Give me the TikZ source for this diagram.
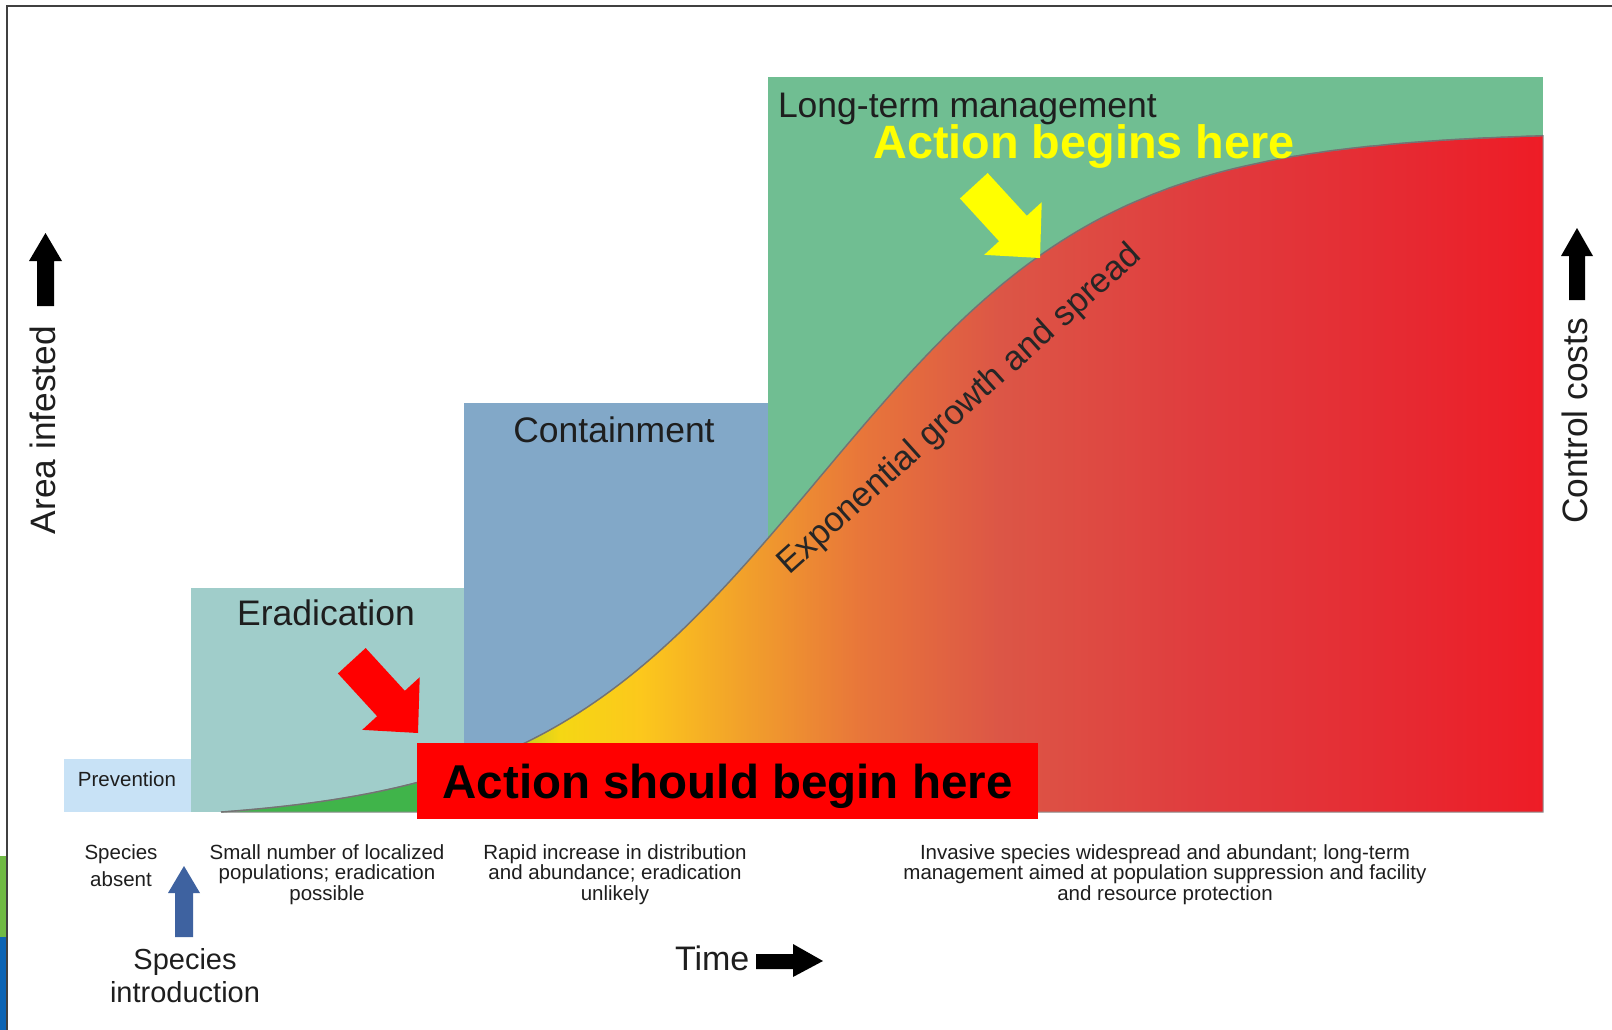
\documentclass[tikz,border=0pt]{standalone}
\usepackage{fontspec}
\setmainfont{Liberation Sans}
\definecolor{prevc}{RGB}{200,226,246}
\definecolor{eradc}{RGB}{160,205,202}
\definecolor{contc}{RGB}{130,168,200}
\definecolor{ltmc}{RGB}{112,190,146}
\definecolor{sg1}{RGB}{64,180,74}
\definecolor{sg2}{RGB}{165,200,40}
\definecolor{sg3}{RGB}{245,215,20}
\definecolor{sg4}{RGB}{252,200,28}
\definecolor{sg5}{RGB}{242,162,42}
\definecolor{sg6}{RGB}{232,118,58}
\definecolor{sg7}{RGB}{220,86,70}
\definecolor{sg8}{RGB}{224,60,62}
\definecolor{sg9}{RGB}{230,42,50}
\definecolor{sg10}{RGB}{238,28,38}
\definecolor{txt}{RGB}{30,30,30}
\definecolor{introblue}{RGB}{62,98,160}
\definecolor{stripg}{RGB}{112,186,68}
\definecolor{stripb}{RGB}{12,100,180}
\definecolor{actred}{RGB}{255,0,0}
\definecolor{actyellow}{RGB}{255,255,0}
\pgfdeclarehorizontalshading{curveshade}{100bp}{color(0bp)=(sg1); color(25bp)=(sg1); color(32.9bp)=(sg1); color(35.55bp)=(sg2); color(37.8bp)=(sg3); color(40.85bp)=(sg4); color(44.6bp)=(sg5); color(49.2bp)=(sg6); color(54.45bp)=(sg7); color(62bp)=(sg8); color(69.6bp)=(sg9); color(75bp)=(sg10); color(100bp)=(sg10)}
\newcommand\myfs[2]{\fontsize{#1}{#2}\selectfont}
\begin{document}
\begin{tikzpicture}[x=1pt,y=-1pt,
  zonebox/.style={inner sep=0, outer sep=0, anchor=north west, draw=none},
  lbl/.style={inner sep=0, outer sep=0, text=txt},
  smalltxt/.style={lbl, align=center, anchor=base, font=\myfs{20.5}{20.5}},
  zonetxt/.style={lbl, anchor=base, font=\myfs{35.5}{40}},
  axistxt/.style={lbl, anchor=base, rotate=90, font=\myfs{35.3}{40}},
  blockarrow/.style={fill=black, draw=none},
  curveline/.style={draw=black!55, line width=1.4pt, line join=round}
]
\useasboundingbox (0,0) rectangle (1612,1030);
\fill[white] (0,0) rectangle (1612,1030);
% frame and strips
\fill[stripg] (0,856) rectangle (5.5,937);
\fill[stripb] (0,937) rectangle (5.5,1030);
\draw[black!75, line width=2pt] (6.5,1030) -- (6.5,6) -- (1612,6);

% zone boxes
\node[zonebox, fill=prevc, minimum width=127, minimum height=53] (prev) at (64,759) {};
\node[zonebox, fill=eradc, minimum width=273, minimum height=224] (erad) at (191,588) {};
\node[zonebox, fill=contc, minimum width=304, minimum height=409] (cont) at (464,403) {};
\node[zonebox, fill=ltmc, minimum width=775, minimum height=735] (ltm) at (768,77) {};

% growth curve area (logistic)
\shade[shading=curveshade, draw=black!45, line width=1pt]
  plot[domain=221:1543, samples=160] (\x, {812-692*(1/(1+exp(-(\x-820)/145))-0.01581)})
  -- (1543,812) -- cycle;
\draw[curveline]
  plot[domain=221:1543, samples=160] (\x, {812-692*(1/(1+exp(-(\x-820)/145))-0.01581)});

% zone labels
\node[zonetxt, anchor=base west] (ltmlbl) at (778,118) {Long-term management};
\node[zonetxt] (contlbl) at (614,442) {Containment};
\node[zonetxt] (eradlbl) at (326,625) {Eradication};
\node[lbl, anchor=base, font=\myfs{20.5}{24}] (prevlbl) at (127,786) {Prevention};
\node[lbl, rotate=42, font=\myfs{34.5}{38}, text=black!85] (expo) at (960,410) {Exponential growth and spread};

% red action box
\node[fill=actred, inner sep=0, minimum width=621, minimum height=76, text height=35, text depth=0, font=\bfseries\myfs{47.5}{50}] (act) at (727.5,781) {Action should begin here};
\node[lbl, text=actyellow, anchor=base, font=\bfseries\myfs{46.8}{50}] (actb) at (1084,158) {Action begins here};

% red and yellow arrows
\begin{scope}[shift={(418,733)}, rotate=-47.5]
  \fill[actred] (0,0) -- (-40,39) -- (-40,18.8) -- (-98,18.8) -- (-98,-18.8) -- (-40,-18.8) -- (-40,-39) -- cycle;
\end{scope}
\begin{scope}[shift={(1040,258)}, rotate=-47.5]
  \fill[actyellow] (0,0) -- (-40,39) -- (-40,18.8) -- (-98,18.8) -- (-98,-18.8) -- (-40,-18.8) -- (-40,-39) -- cycle;
\end{scope}

% axis labels and arrows
\fill[blockarrow] (45.5,233) -- (62,261) -- (54,261) -- (54,306) -- (37,306) -- (37,261) -- (29,261) -- cycle;
\node[axistxt] (area) at (55,430) {Area infested};
\fill[blockarrow] (1577,228) -- (1593,256) -- (1585,256) -- (1585,300) -- (1569,300) -- (1569,256) -- (1561,256) -- cycle;
\node[axistxt] (cost) at (1587,421) {Control costs};
\node[lbl, anchor=base west, font=\myfs{34}{38}] (time) at (675,970) {Time};
\fill[blockarrow] (756,954) -- (793,954) -- (793,944) -- (823,961) -- (793,977) -- (793,969) -- (756,969) -- cycle;

% bottom descriptions (anchor base = last line)
\node[smalltxt, font=\myfs{20.5}{27}] (absent) at (121,886) {Species\\absent};
\node[smalltxt] (small) at (327,900) {Small number of localized\\populations; eradication\\possible};
\node[smalltxt] (rapid) at (615,900) {Rapid increase in distribution\\and abundance; eradication\\unlikely};
\node[smalltxt] (invasive) at (1165,900) {Invasive species widespread and abundant; long-term\\management aimed at population suppression and facility\\and resource protection};

% species introduction
\fill[introblue] (184,866) -- (200,893) -- (193,893) -- (193,937) -- (175,937) -- (175,893) -- (168,893) -- cycle;
\node[lbl, align=center, anchor=base, font=\myfs{29}{33}] (intro) at (185,1002) {Species\\introduction};
\end{tikzpicture}
\end{document}
